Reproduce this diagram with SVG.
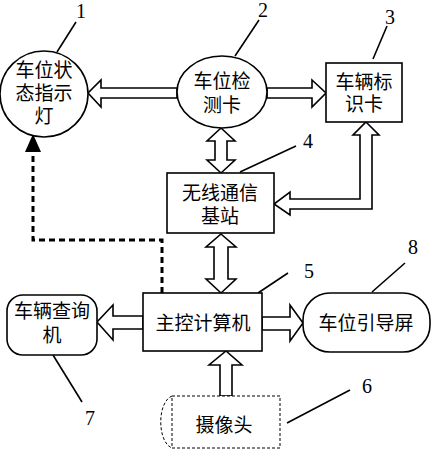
<svg xmlns="http://www.w3.org/2000/svg" width="437" height="450" viewBox="0 0 437 450">
<style>
.n{fill:#fff;stroke:#000;stroke-width:1.6}
.a{fill:#fff;stroke:#000;stroke-width:1.6;stroke-linejoin:miter}
.t{font-family:"Noto Sans CJK SC","Liberation Serif",serif;font-size:19px;fill:#000;text-anchor:middle}
.num{font-family:"Liberation Serif",serif;font-size:20px;fill:#000;text-anchor:middle}
.ld{stroke:#000;stroke-width:1.6;fill:none}
</style>
<rect width="437" height="450" fill="#fff"/>
<g id="connectors">
<polygon class="a" points="177,88 101,88 101,80 88,93 101,107 101,98 177,98"/>
<polygon class="a" points="267,88 312,88 312,80 326,93 312,107 312,98 267,98"/>
<polygon class="a" points="221,128 235,141 227,141 227,160 235,160 221,173 207,160 215,160 215,141 207,141"/>
<polygon class="a" points="366,122 379,135 372,135 372,209 290,209 290,215 274,204 290,192 290,199 360,199 360,135 353,135"/>
<polygon class="a" points="221,234 236,247 228,247 228,279 236,279 221,293 206,279 214,279 214,247 206,247"/>
<polygon class="a" points="143,316 113,316 113,305 97,322 113,340 113,329 143,329"/>
<polygon class="a" points="262,317 290,317 290,305 303,323 290,341 290,330 262,330"/>
<polygon class="a" points="220,396 220,365 209,365 226,351 242,365 232,365 232,396"/>
<polyline points="162,293 162,240 33,240 33,150" fill="none" stroke="#000" stroke-width="3" stroke-dasharray="6 4"/>
<polygon points="33,134 41,152 25,152" fill="#000"/>
<line class="ld" x1="76" y1="22" x2="57" y2="52"/>
<line class="ld" x1="259" y1="20" x2="235" y2="56"/>
<line class="ld" x1="387" y1="26" x2="373" y2="59"/>
<line class="ld" x1="296" y1="146" x2="240" y2="172"/>
<line class="ld" x1="288" y1="273" x2="258" y2="293"/>
<line class="ld" x1="405" y1="263" x2="372" y2="292"/>
<line class="ld" x1="350" y1="390" x2="287" y2="423"/>
<line class="ld" x1="82" y1="402" x2="53" y2="355"/>
</g>
<g id="labels">
<text class="num" x="81" y="18">1</text>
<text class="num" x="263" y="17">2</text>
<text class="num" x="390" y="24">3</text>
<text class="num" x="308" y="148">4</text>
<text class="num" x="309" y="278">5</text>
<text class="num" x="367" y="393">6</text>
<text class="num" x="90" y="425">7</text>
<text class="num" x="413" y="254">8</text>
</g>
<g id="node1">
<ellipse class="n" cx="44" cy="94" rx="44" ry="43"/>
<text class="t"><tspan x="44" y="77">车位状</tspan><tspan x="44" y="100">态指示</tspan><tspan x="44" y="123">灯</tspan></text>
</g>
<g id="node2">
<ellipse class="n" cx="222" cy="92" rx="45" ry="36"/>
<text class="t"><tspan x="222" y="88">车位检</tspan><tspan x="222" y="112">测卡</tspan></text>
</g>
<g id="node3">
<rect class="n" x="326" y="63" width="76" height="59"/>
<text class="t"><tspan x="364" y="89">车辆标</tspan><tspan x="364" y="111">识卡</tspan></text>
</g>
<g id="node4">
<rect class="n" x="167" y="173" width="107" height="60"/>
<text class="t"><tspan x="220" y="200">无线通信</tspan><tspan x="220" y="223">基站</tspan></text>
</g>
<g id="node5">
<rect class="n" x="143" y="293" width="119" height="58"/>
<text class="t" x="203" y="330">主控计算机</text>
</g>
<g id="node6">
<rect x="172" y="396" width="108" height="52" fill="#fff" stroke="#000" stroke-width="1" stroke-dasharray="3 2"/>
<path d="M172,396 C157,402 157,442 172,448" fill="none" stroke="#000" stroke-width="1" stroke-dasharray="3 2"/>
<text class="t" x="224" y="432">摄像头</text>
</g>
<g id="node7">
<rect class="n" x="7" y="295" width="90" height="60" rx="16"/>
<text class="t"><tspan x="52" y="318">车辆查询</tspan><tspan x="52" y="342">机</tspan></text>
</g>
<g id="node8">
<rect class="n" x="303" y="293" width="127" height="59" rx="27"/>
<text class="t" x="366" y="330">车位引导屏</text>
</g>
</svg>
